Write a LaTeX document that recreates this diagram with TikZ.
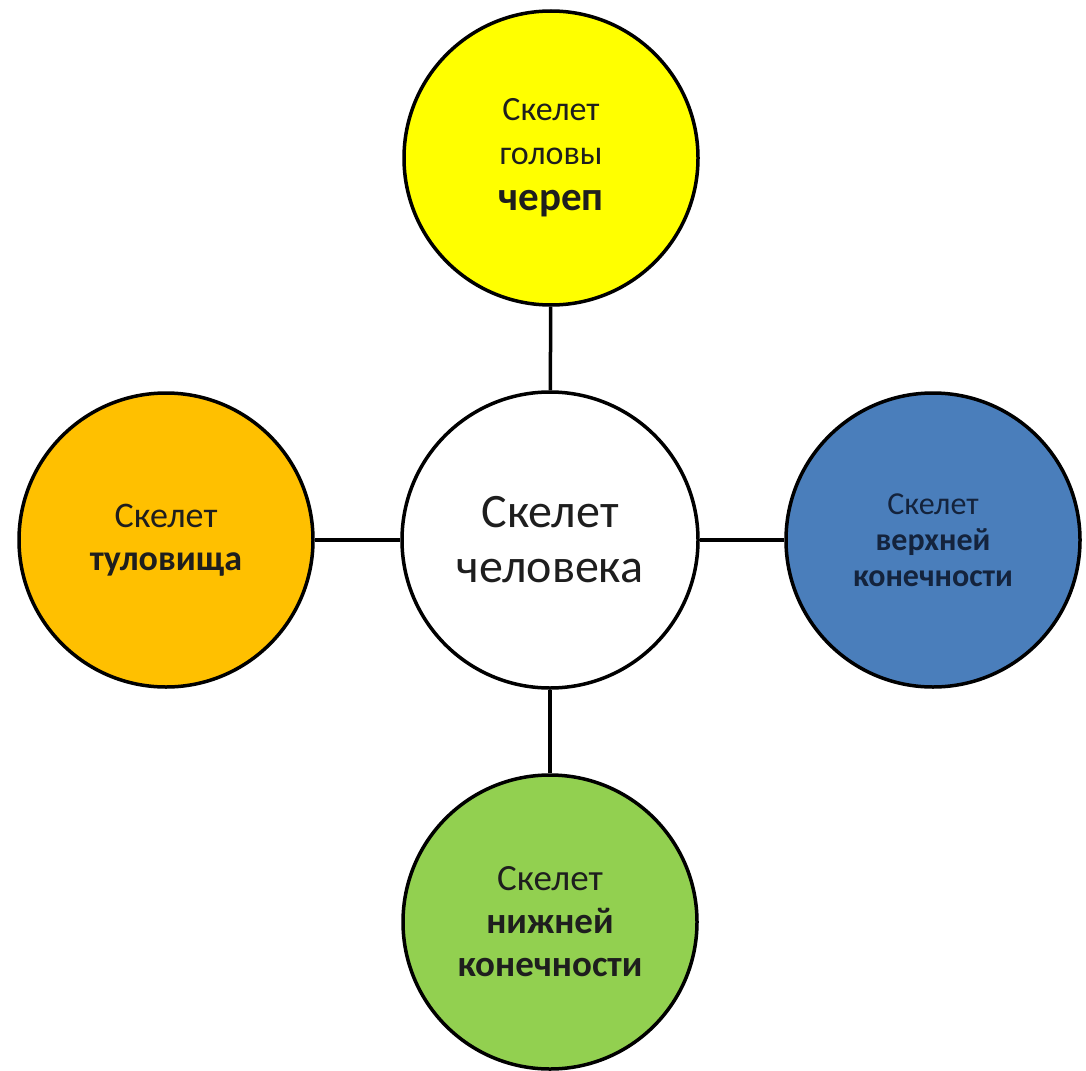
\documentclass[tikz,border=0pt]{standalone}
\usepackage{fontspec}
\setmainfont{Carlito}
\definecolor{cyellow}{HTML}{FFFF00}
\definecolor{corange}{HTML}{FFC000}
\definecolor{cblue}{HTML}{4A7EBB}
\definecolor{cgreen}{HTML}{92D050}
\definecolor{ctext}{HTML}{1E1E1E}
\definecolor{cnavy}{HTML}{14233C}
\tikzset{
  bubble/.style={circle, draw=black, line width=3.5pt, minimum size=294pt, inner sep=0pt, align=center, text=ctext},
  link/.style={draw=black, line width=3.5pt}
}
\begin{document}
\begin{tikzpicture}[x=1pt,y=-1pt]
\useasboundingbox (0,0) rectangle (1086,1070);
\node[bubble, fill=white, minimum size=296pt, font=\fontsize{48}{55}\selectfont] (center) at (550,540) {Скелет\\человека};
\node[bubble, fill=cyellow, font=\fontsize{34}{44}\selectfont] (head) at (551,158) {Скелет\\головы\\[2pt]{\fontsize{41}{48}\selectfont\bfseries череп}};
\node[bubble, fill=corange, font=\fontsize{36}{43}\selectfont] (trunk) at (166,540) {Скелет\\\bfseries туловища};
\node[bubble, fill=cblue, text=cnavy, font=\fontsize{32}{36}\selectfont] (upper) at (933,540) {Скелет\\\bfseries верхней\\\bfseries конечности};
\node[bubble, fill=cgreen, font=\fontsize{37}{43}\selectfont] (lower) at (550,922) {Скелет\\\bfseries нижней\\\bfseries конечности};
\draw[link] (head) -- (center);
\draw[link] (trunk) -- (center);
\draw[link] (upper) -- (center);
\draw[link] (lower) -- (center);
\end{tikzpicture}
\end{document}
